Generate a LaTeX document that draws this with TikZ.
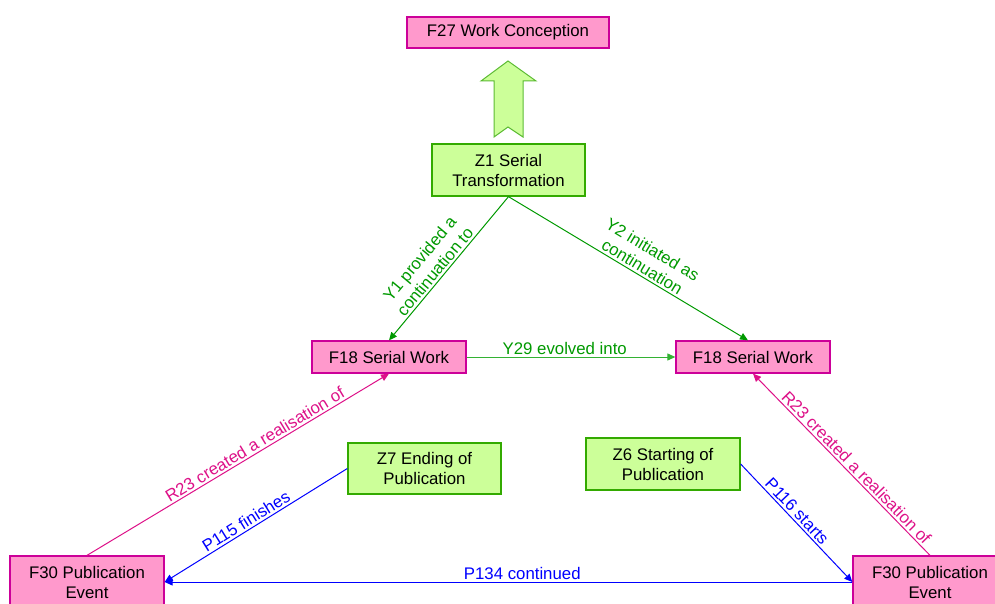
\documentclass[tikz,border=0pt]{standalone}
\usepackage{fontspec}
\setmainfont{Liberation Sans}
\usetikzlibrary{arrows.meta}
\definecolor{pinkfill}{HTML}{FF99CC}
\definecolor{pinkdraw}{HTML}{CC0099}
\definecolor{greenfill}{HTML}{CCFF99}
\definecolor{greendraw}{HTML}{33AA00}
\definecolor{ylinecol}{HTML}{009900}
\definecolor{ylightcol}{HTML}{33B233}
\definecolor{rcol}{HTML}{DD1188}
\definecolor{pcol}{HTML}{0000FF}
\tikzset{
  every node/.style={font=\fontsize{16.8}{20}\selectfont},
  fbox/.style={draw=pinkdraw, fill=pinkfill, line width=1.3pt, minimum width=154pt, inner sep=0pt, align=center},
  zbox/.style={draw=greendraw, fill=greenfill, line width=1.3pt, minimum width=153pt, inner sep=0pt, align=center},
  conn/.style={line width=1pt, -{Triangle[length=8pt,width=7pt]}},
  lab/.style={sloped, above, inner sep=2pt, align=center}
}
\begin{document}
\begin{tikzpicture}[x=1pt,y=1pt]
\useasboundingbox (0,0) rectangle (995,603);
\clip (0,0) rectangle (995,603);
% nodes
\node[fbox, minimum width=202pt, minimum height=31pt] (f27) at (508,570.5) {F27 Work Conception};
\node[zbox, minimum height=52pt] (z1) at (508.5,433) {Z1 Serial\\Transformation};
\node[fbox, minimum height=32pt] (f18l) at (389,246) {F18 Serial Work};
\node[fbox, minimum height=32pt] (f18r) at (753,246) {F18 Serial Work};
\node[zbox, minimum height=51pt] (z7) at (424.5,134.5) {Z7 Ending of\\Publication};
\node[zbox, minimum width=154pt, minimum height=52pt] (z6) at (663,139) {Z6 Starting of\\Publication};
\node[fbox, minimum height=52pt] (f30l) at (87,21) {F30 Publication\\Event};
\node[fbox, minimum height=52pt] (f30r) at (930,21) {F30 Publication\\Event};
% big arrow
\draw[draw=greendraw!80, fill=greenfill, line width=1pt, line join=miter]
  (508,542) -- (536,522) -- (523,522) -- (523,466) -- (508,476) -- (494,466) -- (494,522) -- (481,522) -- cycle;
% connectors
\draw[conn, ylinecol, <-, >={Triangle[length=8pt,width=7pt]}] (f18l.north) -- node[lab, pos=0.44, text=ylinecol] {Y1 provided a\\continuation to} (z1.south);
\draw[conn, ylinecol] (z1.south) -- node[lab, pos=0.54, text=ylinecol] {Y2 initiated as\\continuation} ([xshift=-5pt]f18r.north);
\draw[conn, ylightcol] (f18l.east) -- node[lab, pos=0.47, text=ylinecol] {Y29 evolved into} (f18r.west);
\draw[conn, rcol, <-, >={Triangle[length=8pt,width=7pt]}] (f18l.south) -- node[lab, pos=0.43, text=rcol] {R23 created a realisation of} (f30l.north);
\draw[conn, rcol, <-, >={Triangle[length=8pt,width=7pt]}] (f18r.south) -- node[lab, pos=0.55, text=rcol] {R23 created a realisation of} (f30r.north);
\draw[conn, pcol, <-, >={Triangle[length=8pt,width=7pt]}] (f30l.east) -- node[lab, pos=0.47, text=pcol] {P115 finishes} (z7.west);
\draw[conn, pcol] (z6.east) -- node[lab, pos=0.45, text=pcol] {P116 starts} (f30r.west);
\draw[conn, pcol] (f30r.west) -- node[lab, pos=0.48, text=pcol] {P134 continued} (f30l.east);
\end{tikzpicture}
\end{document}
